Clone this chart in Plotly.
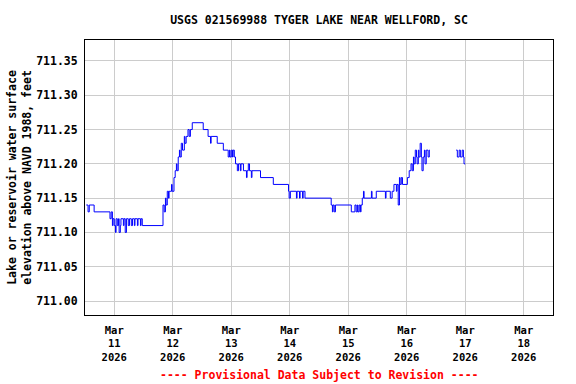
import plotly.graph_objects as go

# Readings (time, elevation in ft) – step changes
times = [
    "2026-03-10 12:30", "2026-03-10 13:15", "2026-03-10 13:45", "2026-03-10 15:45",
    "2026-03-10 22:15", "2026-03-10 22:45", "2026-03-10 23:15", "2026-03-10 23:30",
    "2026-03-11 00:00", "2026-03-11 00:30", "2026-03-11 00:45", "2026-03-11 01:15",
    "2026-03-11 01:45", "2026-03-11 02:00", "2026-03-11 02:30", "2026-03-11 02:45",
    "2026-03-11 03:45", "2026-03-11 04:00", "2026-03-11 04:30", "2026-03-11 05:00",
    "2026-03-11 05:45", "2026-03-11 06:15", "2026-03-11 07:00", "2026-03-11 07:30",
    "2026-03-11 08:15", "2026-03-11 08:30", "2026-03-11 09:30", "2026-03-11 09:45",
    "2026-03-11 10:45", "2026-03-11 11:00", "2026-03-11 11:30",
    "2026-03-11 20:00", "2026-03-11 20:30", "2026-03-11 21:00", "2026-03-11 21:15",
    "2026-03-11 21:45", "2026-03-11 22:15", "2026-03-11 22:30", "2026-03-11 23:30",
    "2026-03-11 23:45", "2026-03-12 00:30", "2026-03-12 01:00", "2026-03-12 01:30",
    "2026-03-12 01:45", "2026-03-12 02:15", "2026-03-12 02:45", "2026-03-12 03:00",
    "2026-03-12 03:30", "2026-03-12 04:00", "2026-03-12 04:45", "2026-03-12 05:00",
    "2026-03-12 05:30", "2026-03-12 06:15", "2026-03-12 06:45", "2026-03-12 07:15",
    "2026-03-12 08:00", "2026-03-12 12:30", "2026-03-12 14:30", "2026-03-12 15:30",
    "2026-03-12 15:45", "2026-03-12 18:15", "2026-03-12 20:45", "2026-03-12 22:45",
    "2026-03-12 23:15", "2026-03-12 23:30", "2026-03-13 00:00", "2026-03-13 00:30",
    "2026-03-13 00:45", "2026-03-13 01:15", "2026-03-13 01:45", "2026-03-13 02:30",
    "2026-03-13 03:00", "2026-03-13 03:45", "2026-03-13 04:00", "2026-03-13 05:00",
    "2026-03-13 06:15", "2026-03-13 06:30", "2026-03-13 07:00", "2026-03-13 07:30",
    "2026-03-13 08:15", "2026-03-13 08:30", "2026-03-13 12:00", "2026-03-13 17:15",
    "2026-03-13 23:30", "2026-03-13 23:45", "2026-03-14 00:15", "2026-03-14 02:45",
    "2026-03-14 03:00", "2026-03-14 04:00", "2026-03-14 04:15", "2026-03-14 05:15",
    "2026-03-14 05:30", "2026-03-14 06:15", "2026-03-14 17:00", "2026-03-14 17:30",
    "2026-03-14 17:45", "2026-03-14 18:15", "2026-03-14 18:45", "2026-03-15 01:15",
    "2026-03-15 02:45", "2026-03-15 03:15", "2026-03-15 03:45", "2026-03-15 04:00",
    "2026-03-15 04:30", "2026-03-15 05:00", "2026-03-15 05:15", "2026-03-15 05:45",
    "2026-03-15 06:15", "2026-03-15 06:30", "2026-03-15 09:30", "2026-03-15 09:45",
    "2026-03-15 11:30", "2026-03-15 15:15", "2026-03-15 15:30", "2026-03-15 17:15",
    "2026-03-15 18:00", "2026-03-15 18:45", "2026-03-15 19:45", "2026-03-15 20:00",
    "2026-03-15 20:30", "2026-03-15 21:00", "2026-03-15 21:15", "2026-03-15 21:45",
    "2026-03-15 22:15", "2026-03-16 00:15", "2026-03-16 01:00", "2026-03-16 01:45",
    "2026-03-16 02:15", "2026-03-16 02:45", "2026-03-16 03:00", "2026-03-16 03:30",
    "2026-03-16 04:00", "2026-03-16 04:15", "2026-03-16 04:45", "2026-03-16 05:00",
    "2026-03-16 05:30", "2026-03-16 06:00", "2026-03-16 06:15", "2026-03-16 06:45",
    "2026-03-16 07:15", "2026-03-16 07:30", "2026-03-16 08:00", "2026-03-16 08:45",
    "2026-03-16 09:15", "2026-03-16 09:30", "2026-03-16 15:00",
    "2026-03-16 20:15", "2026-03-16 20:45", "2026-03-16 21:30", "2026-03-16 22:00",
    "2026-03-16 22:45", "2026-03-16 23:15", "2026-03-16 23:30", "2026-03-17 00:00",
]
elevation = [
    711.14, 711.13, 711.14, 711.13,
    711.12, 711.13, 711.11, 711.12,
    711.11, 711.10, 711.12, 711.11,
    711.12, 711.10, 711.11, 711.12,
    711.11, 711.12, 711.10, 711.12,
    711.11, 711.12, 711.11, 711.12,
    711.11, 711.12, 711.11, 711.12,
    711.11, 711.12, 711.11,
    711.14, 711.13, 711.15, 711.14,
    711.16, 711.15, 711.16, 711.17,
    711.16, 711.18, 711.19, 711.20,
    711.19, 711.21, 711.22, 711.21,
    711.23, 711.22, 711.24, 711.23,
    711.24, 711.25, 711.24, 711.25,
    711.26, 711.25, 711.24, 711.23,
    711.24, 711.23, 711.22, 711.21,
    711.22, 711.21, 711.22, 711.21,
    711.22, 711.21, 711.20, 711.19,
    711.20, 711.19, 711.20, 711.19,
    711.18, 711.19, 711.20, 711.19,
    711.18, 711.19, 711.18, 711.17,
    711.16, 711.15, 711.16, 711.15,
    711.16, 711.15, 711.16, 711.15,
    711.16, 711.15, 711.14, 711.13,
    711.14, 711.13, 711.14, 711.13,
    711.14, 711.13, 711.14, 711.13,
    711.14, 711.13, 711.14, 711.15,
    711.16, 711.15, 711.16, 711.15,
    711.16, 711.15, 711.16, 711.15,
    711.16, 711.17, 711.16, 711.17,
    711.14, 711.18, 711.17, 711.18,
    711.17, 711.18, 711.19, 711.20,
    711.19, 711.21, 711.20, 711.22,
    711.21, 711.20, 711.22, 711.21,
    711.23, 711.21, 711.19, 711.21,
    711.22, 711.20, 711.22, 711.21,
    711.22, 711.22, None,
    711.22, 711.21, 711.22, 711.21,
    711.22, 711.21, 711.20, 711.20,
]

tick_dates = ["2026-03-11", "2026-03-12", "2026-03-13", "2026-03-14",
              "2026-03-15", "2026-03-16", "2026-03-17", "2026-03-18"]
tick_labels = ["Mar<br>11<br>2026", "Mar<br>12<br>2026", "Mar<br>13<br>2026",
               "Mar<br>14<br>2026", "Mar<br>15<br>2026", "Mar<br>16<br>2026",
               "Mar<br>17<br>2026", "Mar<br>18<br>2026"]
y_ticks = [711.00, 711.05, 711.10, 711.15, 711.20, 711.25, 711.30, 711.35]

FONT = "DejaVu Sans Mono"

fig = go.Figure()
fig.add_trace(go.Scatter(
    x=times, y=elevation, mode="lines", line=dict(color="#0000ff", width=1, shape="hv"),
    connectgaps=False, showlegend=False,
))

fig.update_layout(
    width=576, height=384,
    margin=dict(l=85, r=23, t=40, b=69),
    paper_bgcolor="white", plot_bgcolor="white",
    font=dict(family=FONT, size=11.5, color="black", weight="bold"),
    title=dict(text="USGS 021569988 TYGER LAKE NEAR WELLFORD, SC",
               x=0.5, xref="paper", xanchor="center", y=1 - 20 / 384, yref="container",
               yanchor="middle", automargin=False,
               font=dict(family=FONT, size=11.5, color="black", weight="bold")),
    xaxis=dict(
        range=["2026-03-10 12:00", "2026-03-18 12:00"],
        tickvals=tick_dates, ticktext=tick_labels, tickangle=0,
        tickfont=dict(family=FONT, size=10.5, weight="bold"),
        showgrid=True, gridcolor="#cccccc", gridwidth=1,
        showline=True, linecolor="black", linewidth=1, mirror=True,
        ticks="", ticklabelstandoff=5, zeroline=False, automargin=False,
    ),
    yaxis=dict(
        range=[710.9796, 711.3806],
        tickvals=y_ticks, tickformat=".2f",
        showgrid=True, gridcolor="#cccccc", gridwidth=1,
        showline=True, linecolor="black", linewidth=1, mirror=True,
        ticks="", ticklabelstandoff=4, zeroline=False, automargin=False,
        title=dict(text="Lake or reservoir water surface<br>elevation above NAVD 1988, feet",
                   standoff=2, font=dict(family=FONT, size=11.5, weight="bold")),
    ),
)

fig.add_annotation(
    text="---- Provisional Data Subject to Revision ----",
    xref="paper", yref="paper", x=0.5, y=-(375 - 315) / 275, yanchor="middle", xanchor="center",
    showarrow=False, font=dict(family=FONT, size=11.5, color="red", weight="bold"),
)

fig.write_html("out.html", config={"displayModeBar": False},
               post_script="document.body.style.margin='0px';")
